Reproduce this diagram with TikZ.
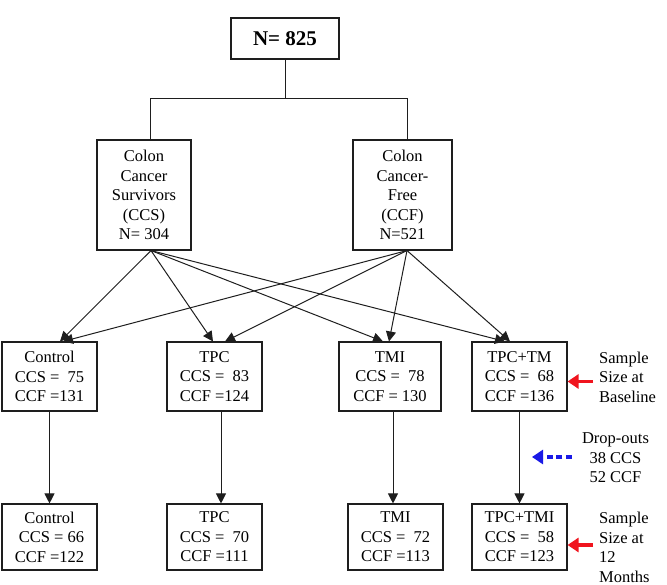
\documentclass[tikz,border=0pt]{standalone}
\usepackage{fontspec}
\setmainfont{Liberation Serif}
\usetikzlibrary{positioning,arrows.meta,calc}
\definecolor{fcline}{HTML}{1E1E1E}
\definecolor{fcred}{HTML}{F0141E}
\definecolor{fcblue}{HTML}{1A1AE6}

\begin{document}
\begin{tikzpicture}[x=1pt, y=-1pt,
  font=\fontsize{16.5}{19.5}\selectfont,
  box/.style={draw=fcline, line width=1.1pt, align=center, inner sep=0pt,
              minimum width=#1, minimum height=69pt},
  box/.default=95pt,
  arr/.style={-{Triangle[length=10pt,width=10pt]}, line width=1pt, draw=fcline},
  link/.style={line width=1pt, draw=fcline},
  side/.style={align=left, inner sep=0pt, anchor=west},
  pointer/.style={-{Triangle[length=11pt,width=14pt]}, line width=3.8pt, draw=fcred},
  dropline/.style={-{Triangle[length=11pt,width=14pt]}, line width=4pt, draw=fcblue,
                   dash pattern=on 6pt off 3.5pt},
]
  \useasboundingbox (0,0) rectangle (667,585);

  \node[box=108pt, minimum height=41pt, font=\fontsize{21}{24}\selectfont\bfseries]
    (total) at (285,38.5) {N= 825};
  \node[box=94pt, minimum height=110pt] (ccs) at (144,195)
    {Colon\\Cancer\\Survivors\\(CCS)\\N= 304};
  \node[box=99pt, minimum height=110pt] (ccf) at (402.5,195)
    {Colon\\Cancer-\\Free\\(CCF)\\N=521};

  \node[box] (ctlBase) at (49.5,376.5) {Control\\CCS =\ \ 75\\CCF =131};
  \node[box] (tpcBase) at (214.5,376.5) {TPC\\CCS =\ \ 83\\CCF =124};
  \node[box=102pt] (tmiBase) at (390,376.5) {TMI\\CCS =\ \ 78\\CCF = 130};
  \node[box] (bothBase) at (519.5,376.5) {TPC+TM\\CCS =\ \ 68\\CCF =136};

  \node[box, minimum height=66pt] (ctlYear) at (49.5,537) {Control\\\ CCS = 66\\CCF =122};
  \node[box, minimum height=66pt] (tpcYear) at (214.5,537) {TPC\\CCS =\ \ 70\\CCF =111};
  \node[box, minimum height=66pt] (tmiYear) at (395.5,537) {TMI\\CCS =\ \ 72\\CCF =113};
  \node[box, minimum height=66pt] (bothYear) at (519.5,537) {TPC+TMI\\CCS =\ \ 58\\CCF =123};

  \node[side] (baseNote) at (599,377) {Sample\\Size at\\Baseline};
  \node[side] (yearNote) at (599,547.5) {Sample\\Size at\\12\\Months};
  \node[align=center, inner sep=0pt] (dropNote) at (615.5,458) {Drop-outs\\38 CCS\\52 CCF};

  \coordinate (split) at (285,99);
  \draw[link] (total) -- (split);
  \draw[link] (split) -| ([xshift=6pt]ccs.north);
  \draw[link] (split) -| ([xshift=4.5pt]ccf.north);

  \foreach \target/\dx in {ctlBase/10.5, tpcBase/-1.5, tmiBase/-7, bothBase/-14.5}
    \draw[arr] ([xshift=7pt]ccs.south) -- ([xshift=\dx pt]\target.north);
  \foreach \target/\dx in {ctlBase/13.5, tpcBase/10.5, tmiBase/-1, bothBase/-9.5}
    \draw[arr] ([xshift=4.5pt]ccf.south) -- ([xshift=\dx pt]\target.north);

  \draw[arr] (ctlBase) -- (ctlYear);
  \draw[arr] ([xshift=6.5pt]tpcBase.south) -- ([xshift=6.5pt]tpcYear.north);
  \draw[arr] ([xshift=3pt]tmiBase.south) -- ([xshift=-2.5pt]tmiYear.north);
  \draw[arr] (bothBase) -- (bothYear);

  \coordinate (tipBase) at ([yshift=-5pt]bothBase.east);
  \coordinate (tipYear) at ([yshift=-8pt]bothYear.east);
  \coordinate (dropTip) at (532,457);
  \draw[pointer, shorten <=6pt] (baseNote.west |- tipBase) -- (tipBase);
  \draw[pointer, shorten <=6pt] (yearNote.west |- tipYear) -- (tipYear);
  \draw[dropline, shorten <=10pt] (dropNote.west |- dropTip) -- (dropTip);
\end{tikzpicture}
\end{document}
